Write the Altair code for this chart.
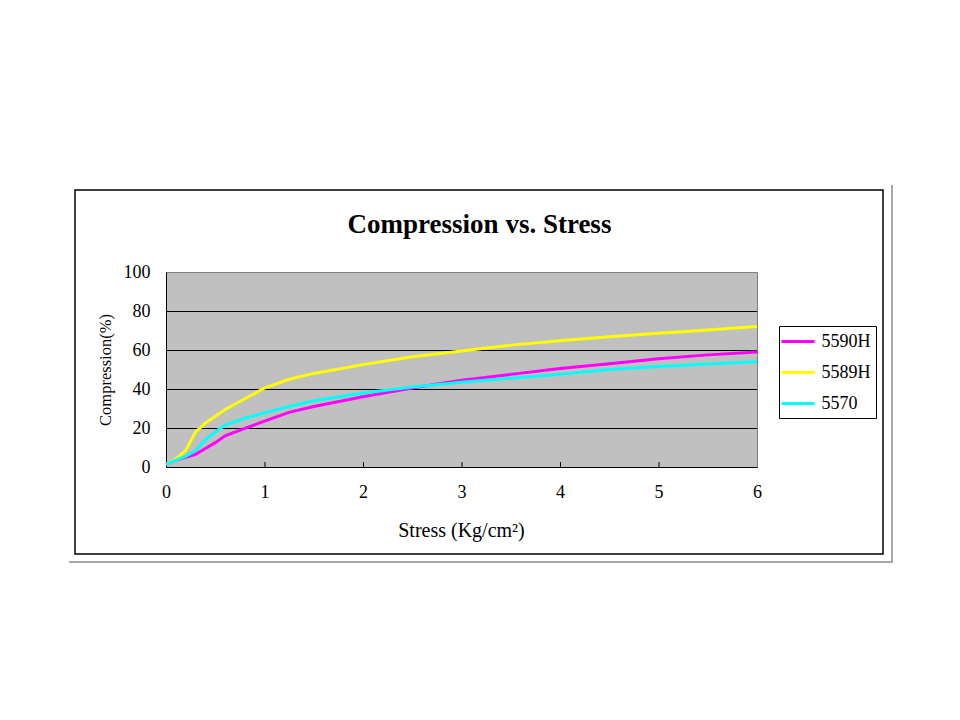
import altair as alt
import pandas as pd

# ---- data ----
stress = [0, 0.1, 0.2, 0.3, 0.4, 0.5, 0.6, 0.8, 1.0, 1.25, 1.5, 2.0, 2.5, 3.0, 3.5, 4.0, 4.5, 5.0, 5.5, 6.0]
comp_5590H = [1.5, 3.5, 5.0, 6.5, 9.5, 12.5, 16.0, 19.8, 23.5, 28.0, 31.0, 36.0, 40.5, 44.5, 47.5, 50.5, 53.0, 55.5, 57.5, 59.0]
comp_5589H = [1.5, 4.0, 8.5, 18.0, 22.5, 26.0, 29.5, 35.0, 40.5, 45.0, 48.0, 52.5, 56.5, 59.5, 62.5, 64.8, 66.8, 68.6, 70.3, 72.0]
comp_5570 = [1.5, 3.5, 5.5, 8.5, 14.0, 18.0, 21.5, 25.0, 27.8, 31.0, 34.0, 38.0, 41.0, 43.5, 45.5, 47.5, 50.0, 51.5, 52.8, 54.0]
series = ["5590H", "5589H", "5570"]
colors = ["#FF00FF", "#FFFF00", "#00FFFF"]
x_labels = [0, 1, 2, 3, 4, 5, 6]
x_inner_ticks = [1, 2, 3, 4, 5]
y_labels = [0, 20, 40, 60, 80, 100]
y_grid = [20, 40, 60, 80]

FONT = "Liberation Serif"
W, H = 591, 195

rows = []
for name, vals in zip(series, [comp_5590H, comp_5589H, comp_5570]):
    for s, c in zip(stress, vals):
        rows.append({"Stress": s, "Compression": c, "Series": name})
df = pd.DataFrame(rows)

one = pd.DataFrame({"k": [0]})

xscale = alt.Scale(domain=[0, 6], nice=False, zero=False)
yscale = alt.Scale(domain=[0, 100], nice=False)

x_axis = alt.Axis(values=x_labels, title="Stress (Kg/cm²)", grid=False, ticks=False,
                  tickSize=0, labelPadding=25, labelBaseline="middle",
                  labelFlush=False, labelOverlap=False,
                  labelFont=FONT, labelFontSize=18, labelColor="black",
                  domainColor="black", domainWidth=1,
                  titleFont=FONT, titleFontSize=20, titleFontWeight="normal",
                  titleColor="black", titleX=295, titleY=63,
                  titleBaseline="middle", titleAlign="center")
y_axis = alt.Axis(values=y_labels, title="Compression(%)", grid=False, ticks=False,
                  tickSize=0, labelPadding=16, labelFlush=False, labelOverlap=False,
                  labelFont=FONT, labelFontSize=18, labelColor="black",
                  domainColor="black", domainWidth=1,
                  titleFont=FONT, titleFontSize=16.5, titleFontWeight="normal",
                  titleColor="black", titleX=-61, titleY=97.5, titleAngle=270,
                  titleBaseline="middle", titleAlign="center")

# outer chart frame and shadow
frame = alt.Chart(one).mark_rect(fillOpacity=0, stroke="black", strokeWidth=1.5).encode(
    x=alt.value(-91), x2=alt.value(717), y=alt.value(-82), y2=alt.value(282)
)
shadow_v = alt.Chart(one).mark_rule(color="#A8A8A8", strokeWidth=2).encode(
    x=alt.value(726), y=alt.value(-87), y2=alt.value(291)
)
shadow_h = alt.Chart(one).mark_rule(color="#A8A8A8", strokeWidth=2).encode(
    y=alt.value(290), x=alt.value(-97), x2=alt.value(727)
)

title = alt.Chart(one).mark_text(
    text="Compression vs. Stress", font=FONT, fontSize=27, fontWeight="bold",
    align="center", baseline="middle", color="black"
).encode(x=alt.value(313.5), y=alt.value(-47))

grid = alt.Chart(pd.DataFrame({"Compression": y_grid})).mark_rule(
    color="black", strokeWidth=1, yOffset=0.5
).encode(y=alt.Y("Compression:Q", scale=yscale, axis=y_axis))

ticks = alt.Chart(pd.DataFrame({"Stress": x_inner_ticks})).mark_rule(
    color="black", strokeWidth=1, xOffset=0.5
).encode(x=alt.X("Stress:Q", scale=xscale, axis=x_axis), y=alt.value(H - 5), y2=alt.value(H))

lines = alt.Chart(df).mark_line(strokeWidth=3).encode(
    x=alt.X("Stress:Q", scale=xscale, axis=x_axis),
    y=alt.Y("Compression:Q", scale=yscale, axis=y_axis),
    color=alt.Color("Series:N", sort=series,
                    scale=alt.Scale(domain=series, range=colors),
                    legend=alt.Legend(orient="none", legendX=613, legendY=54, title=None,
                                      symbolType="M-1.83,0H1.83", symbolSize=324,
                                      symbolStrokeWidth=3, strokeColor="black",
                                      fillColor="white", padding=5, rowPadding=11,
                                      symbolOffset=3.5,
                                      labelFont=FONT, labelFontSize=18, labelColor="black",
                                      labelOffset=13)),
    detail="Series:N",
)

chart = alt.layer(frame, shadow_v, shadow_h, title, grid, ticks, lines).properties(
    width=W, height=H,
    autosize=alt.AutoSizeParams(type="none"),
    padding={"left": 158, "top": 264, "right": 195, "bottom": 245},
    background="white",
).configure_view(
    fill="#C0C0C0", stroke="#808080", strokeWidth=1
)

chart.save("out.html", embed_options={"renderer": "svg", "actions": False})
